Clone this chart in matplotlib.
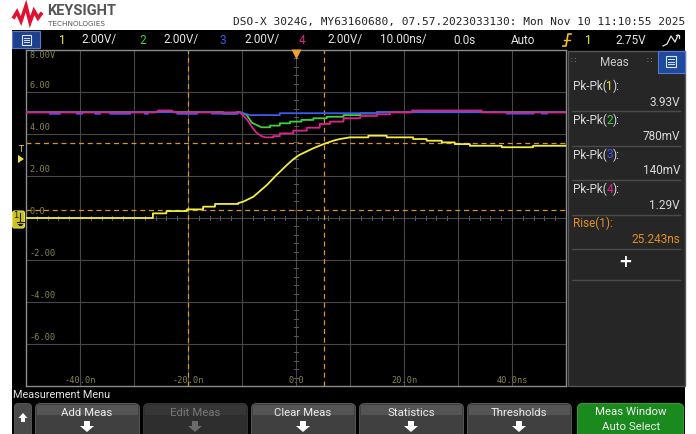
import numpy as np
import matplotlib
matplotlib.use("Agg")
import matplotlib.pyplot as plt
from matplotlib.patches import Rectangle, FancyBboxPatch, Polygon

# ---- waveform data (time in ns, volts at 2 V/div) ----
ch1_t = [-50, -26.5, -26.5, -24.0, -24.0, -20.2, -20.2, -17.2, -17.2, -15.0, -15.0, -10.7, -10.7,
         -9.75, -7.9, -5.4, -3.6, -1.7, -0.5, 0.6, 3.2, 5.1, 6.0, 6.9, 8.1, 10.0, 13.4, 13.4,
         16.8, 16.8, 21.7, 21.7, 24.2, 24.2, 27.0, 27.0, 29.4, 29.4, 32.2, 32.2, 38.1, 38.1,
         43.9, 43.9, 50]
ch1_v = [0.0, 0.0, 0.22, 0.22, 0.33, 0.33, 0.41, 0.41, 0.54, 0.54, 0.67, 0.67, 0.71,
         0.78, 1.01, 1.57, 2.05, 2.52, 2.80, 3.00, 3.32, 3.52, 3.60, 3.68, 3.76, 3.84, 3.84, 3.92,
         3.92, 3.84, 3.84, 3.76, 3.76, 3.68, 3.68, 3.60, 3.60, 3.52, 3.52, 3.44, 3.44, 3.37,
         3.37, 3.44, 3.44]

ch2_t = [-50, -25.5, -25.5, -23.0, -23.0, -13.5, -13.5, -11.0, -11.0, -10.4, -9.1, -8.2, -7.3,
         -6.4, -4.8, -4.8, -3.0, -3.0, -1.1, -1.1, 1.0, 1.0, 3.2, 3.2, 5.7, 5.7, 8.8, 8.8,
         11.9, 11.9, 15.0, 15.0, 50]
ch2_v = [5.04, 5.04, 5.09, 5.09, 5.04, 5.04, 4.97, 4.97, 5.04, 5.04, 4.90, 4.54, 4.43,
         4.32, 4.32, 4.40, 4.40, 4.51, 4.51, 4.59, 4.59, 4.67, 4.67, 4.75, 4.75, 4.82, 4.82, 4.90,
         4.90, 4.98, 4.98, 5.04, 5.04]

ch3_t = [-50, -45.6, -45.6, -43.7, -43.7, -40.6, -40.6, -39.6, -39.6, -37.2, -37.2, -36.3, -36.3,
         -34.4, -34.4, -30.7, -30.7, -28.0, -28.0, -27.4, -27.4, -22.0, -22.0, -18.3, -18.3,
         -15.6, -15.6, -10.7, -10.7, -10.4, -8.5, -3.0, -3.0, 15.0, 15.0, 39.0, 39.0, 44.0,
         44.0, 45.5, 45.5, 46.5, 46.5, 50]
ch3_v = [5.04, 5.04, 4.96, 4.96, 5.04, 5.04, 4.96, 4.96, 5.04, 5.04, 4.96, 4.96, 5.04,
         5.04, 4.96, 4.96, 5.04, 5.04, 4.96, 4.96, 5.04, 5.04, 4.96, 4.96, 5.04,
         5.04, 4.97, 4.97, 5.04, 5.04, 4.90, 4.90, 4.99, 4.99, 5.04, 5.04, 4.97, 4.97,
         5.04, 5.04, 4.97, 4.97, 5.04, 5.04]

ch4_t = [-50, -26.0, -25.5, -23.0, -22.5, -10.4, -9.1, -8.2, -7.3, -6.4, -5.7, -4.2, -4.2,
         -3.0, -3.0, -0.5, -0.5, 2.0, 2.0, 4.4, 4.4, 6.3, 6.3, 8.8, 8.8, 11.9, 11.9, 15.0,
         15.0, 17.4, 17.4, 21.5, 21.5, 34.4, 34.4, 50]
ch4_v = [5.03, 5.03, 5.12, 5.12, 5.03, 5.03, 4.70, 4.35, 4.06, 3.90, 3.84, 3.84, 3.90,
         3.90, 4.03, 4.03, 4.16, 4.16, 4.30, 4.30, 4.48, 4.48, 4.59, 4.59, 4.75, 4.75, 4.86, 4.86,
         4.94, 4.94, 5.03, 5.03, 5.12, 5.12, 5.03, 5.03]

volt_labels = ["8.00V", "6.00", "4.00", "2.00", "0.0", "-2.00", "-4.00", "-6.00"]
volt_pos = [8, 6, 4, 2, 0, -2, -4, -6]
time_labels = ["-40.0n", "-20.0n", "0.0", "20.0n", "40.0ns"]
time_pos = [-40, -20, 0, 20, 40]

cursor_x = [-20.0, 5.24]      # rise-time cursors
cursor_y = [0.38, 3.56]       # 10 % / 90 % levels
trig_level = 2.75

meas_names = ["Pk-Pk(1):", "Pk-Pk(2):", "Pk-Pk(3):", "Pk-Pk(4):", "Rise(1):"]
meas_values = ["3.93V", "780mV", "140mV", "1.29V", "25.243ns"]
buttons = ["Add Meas", "Edit Meas", "Clear Meas", "Statistics", "Thresholds"]

YEL, GRN, BLU, PNK = "#f2ee3c", "#3ed23e", "#3a5cf0", "#e0208c"
ORANGE = "#e0902a"
UI = ["Liberation Sans Narrow", "Roboto", "DejaVu Sans"]
MONO = "DejaVu Sans Mono"

W, H = 696, 434
fig = plt.figure(figsize=(W / 100, H / 100), dpi=100, facecolor="white")

# pixel-coordinate layer for the scope chrome
ui = fig.add_axes([0, 0, 1, 1], zorder=0)
ui.set_xlim(0, W)
ui.set_ylim(H, 0)
ui.axis("off")

ui.add_patch(Rectangle((12, 30), 673, 404, facecolor="black", edgecolor="none"))

# header
logo_x = [14, 17, 21, 26, 30, 34, 38, 41]
logo_y = [17, 12, 21, 6, 22, 11, 18, 14]
ui.plot(logo_x, logo_y, color="#e01030", lw=2.6, solid_joinstyle="miter")
ui.text(47, 11, "KEYSIGHT", fontsize=10.5, weight="bold", color="#555555", va="center", family=UI[1:])
ui.text(48, 23.5, "TECHNOLOGIES", fontsize=5.2, color="#555555", va="center", family=["DejaVu Sans"])
ui.text(685, 22, "DSO-X 3024G, MY63160680, 07.57.2023033130: Mon Nov 10 11:10:55 2025",
        fontsize=8.0, family=MONO, color="#222222", ha="right", va="center")

# status bar
ui.add_patch(Rectangle((12, 31), 28, 17, facecolor="#1d3f8e", edgecolor="#5a78c8", lw=0.8))
ui.add_patch(Rectangle((21.5, 34.5), 9, 10, facecolor="none", edgecolor="#dde4f4", lw=0.8))
for yy in [37.5, 39.5, 41.5]:
    ui.plot([23.5, 28.5], [yy, yy], color="#dde4f4", lw=0.7)

status = [(62, "1", YEL), (99, "2.00V/", "#e6e6e6"), (143, "2", GRN), (181, "2.00V/", "#e6e6e6"),
          (223, "3", BLU), (262, "2.00V/", "#e6e6e6"), (302, "4", PNK), (345, "2.00V/", "#e6e6e6"),
          (403, "10.00ns/", "#e6e6e6"), (464, "0.0s", "#e6e6e6"), (523, "Auto", "#e6e6e6"),
          (588, "1", YEL), (631, "2.75V", "#e6e6e6")]
for xx, s, c in status:
    ui.text(xx, 40, s, color=c, fontsize=8.5, ha="center", va="center", family=UI)
ui.plot([563, 566, 568, 571], [46, 46, 34, 34], color="#f0c020", lw=1.2)
ui.plot([564, 570], [40, 40], color="#f0c020", lw=1.0)
ui.plot([663, 667, 671, 675, 678], [46, 44, 36, 42, 35], color="#e6e6e6", lw=0.9)
ui.plot([676, 679, 679], [35, 35, 38], color="#e6e6e6", lw=0.9)

# left-side markers: ch1 ground and trigger level
ui.add_patch(FancyBboxPatch((12.5, 211), 12, 17, boxstyle="round,pad=0,rounding_size=2",
                            facecolor="#c8c228", edgecolor="#e8e050", lw=0.8))
ui.text(16, 216, "1", fontsize=6, color="#202000", ha="center", va="center", family=["DejaVu Sans"])
ui.plot([20, 20], [213, 222], color="#202000", lw=0.8)
for i, hw in enumerate([3.5, 2.3, 1.1]):
    ui.plot([20 - hw, 20 + hw], [222 + 1.6 * i, 222 + 1.6 * i], color="#202000", lw=0.8)
ui.text(20.5, 149, "T", fontsize=6, color="#e8e050", ha="center", va="center", family=["DejaVu Sans"])
ui.add_patch(Polygon([[18, 155], [24, 159], [18, 163]], closed=True, facecolor="#e8e050", edgecolor="none"))

# measurement panel
ui.add_patch(Rectangle((567.5, 50.5), 117, 335, facecolor="#262626", edgecolor="#565656", lw=1))
ui.add_patch(Rectangle((658, 50.5), 27, 22.5, facecolor="#1d4a9e", edgecolor="#5a78c8", lw=0.8))
ui.add_patch(Rectangle((666, 56), 10, 11, facecolor="none", edgecolor="#dde4f4", lw=0.8))
for yy in [59, 61.5, 64]:
    ui.plot([668, 674], [yy, yy], color="#dde4f4", lw=0.7)
ui.text(614, 62, "Meas", fontsize=8.5, color="#c8c8c8", ha="center", va="center", family=UI)
for xx in [573, 649]:
    ui.text(xx, 61, "\u2237", fontsize=6, color="#808080", ha="center", va="center", family=["DejaVu Sans"])

rend = fig.canvas.get_renderer()
digit_cols = [YEL, GRN, BLU, PNK]
row_y = [86, 120.5, 155, 189.5, 223.5]
for i, (name, val) in enumerate(zip(meas_names, meas_values)):
    y0 = row_y[i]
    if i < 4:
        parts = [("Pk-Pk(", "#dadada"), (name[6], digit_cols[i]), ("):", "#dadada")]
        vcol = "#dadada"
    else:
        parts = [(name, ORANGE)]
        vcol = ORANGE
    xx = 572.5
    for s, c in parts:
        t = ui.text(xx, y0, s, fontsize=8.5, color=c, va="center", ha="left", family=UI)
        xx += t.get_window_extent(renderer=rend).width
    ui.text(680, y0 + 16, val, fontsize=8.5, color=vcol, va="center", ha="right", family=UI)
    ui.plot([572, 680], [y0 + 25, y0 + 25], color="#4a4a4a", lw=1)
ui.text(625, 262, "+", fontsize=12, weight="bold", color="white", ha="center", va="center",
        family=["DejaVu Sans"])
ui.plot([572, 680], [280, 280], color="#4a4a4a", lw=1)

# bottom menu
ui.text(13, 395.5, "Measurement Menu", fontsize=7.8, color="#e2e2e2", va="center", family=UI)


def down_arrow(cx, col):
    ui.add_patch(Polygon([[cx - 3, 421], [cx + 3, 421], [cx + 3, 426], [cx + 7, 426], [cx, 432],
                          [cx - 7, 426], [cx - 3, 426]], closed=True, facecolor=col, edgecolor="none"))


ui.add_patch(FancyBboxPatch((14.5, 403.5), 17, 40, boxstyle="round,pad=0,rounding_size=4",
                            facecolor="#4a4a4a", edgecolor="#5c5c5c", lw=0.6))
ui.add_patch(Polygon([[23, 413], [27.5, 418], [25, 418], [25, 422], [21, 422], [21, 418], [18.5, 418]],
                     closed=True, facecolor="white", edgecolor="none"))
btn_x = [35, 143, 251, 359, 467]
for xx, lab in zip(btn_x, buttons):
    disabled = lab == "Edit Meas"
    ui.add_patch(FancyBboxPatch((xx + 0.5, 403.5), 104, 40, boxstyle="round,pad=0,rounding_size=5",
                                facecolor="#2e2e2e" if disabled else "#404040",
                                edgecolor="#3c3c3c" if disabled else "#5e5e5e", lw=0.6))
    ui.add_patch(Rectangle((xx + 2, 405), 101, 10, facecolor="#363636" if disabled else "#545454",
                           edgecolor="none"))
    ui.text(xx + 52, 412.5, lab, fontsize=8.2, color="#777777" if disabled else "#ececec",
            ha="center", va="center", family=UI)
    down_arrow(xx + 52, "#6a6a6a" if disabled else "white")

ui.add_patch(FancyBboxPatch((577.5, 403.5), 106, 40, boxstyle="round,pad=0,rounding_size=5",
                            facecolor="#1a8a1e", edgecolor="#39b03c", lw=0.6))
ui.text(631, 412, "Meas Window", fontsize=8.2, color="#f0f0f0", ha="center", va="center", family=UI)
ui.text(631, 427, "Auto Select", fontsize=8.2, color="#f0f0f0", ha="center", va="center", family=UI)

# graticule and traces
ax = fig.add_axes([26 / W, (H - 386) / H, 540 / W, 336 / H], zorder=1)
ax.set_facecolor("black")
ax.set_xlim(-50, 50)
ax.set_ylim(-8, 8)
ax.set_xticks([])
ax.set_yticks([])
for sp in ax.spines.values():
    sp.set_color("#8c8c8c")
    sp.set_linewidth(1.0)

for x in range(-40, 50, 10):
    ax.axvline(x, color="#474747", lw=0.8, zorder=1)
for y in range(-6, 8, 2):
    ax.axhline(y, color="#474747", lw=0.8, zorder=1)
for x in np.arange(-50, 50.1, 2):
    ax.plot([x, x], [-0.1, 0.1], color="#5a5a5a", lw=0.7, zorder=1)
for y in np.arange(-8, 8.1, 0.4):
    ax.plot([-0.45, 0.45], [y, y], color="#5a5a5a", lw=0.7, zorder=1)

for v, lab in zip(volt_pos, volt_labels):
    if v == 8:
        ax.text(-49.4, 7.93, lab, fontsize=6.2, color="#868650", va="top", family=MONO)
    else:
        ax.text(-49.4, v + 0.08, lab, fontsize=6.2, color="#868650", va="bottom", family=MONO)
for t, lab in zip(time_pos, time_labels):
    ax.text(t, -7.95, lab, fontsize=6.2, color="#868650", ha="center", va="bottom", family=MONO)

for cx in cursor_x:
    ax.axvline(cx, color=ORANGE, lw=0.9, ls=(0, (4, 3)), zorder=2)
for cy in cursor_y:
    ax.axhline(cy, color=ORANGE, lw=0.9, ls=(0, (4, 3)), zorder=2)

ax.plot(ch2_t, ch2_v, color=GRN, lw=1.3, zorder=3)
ax.plot(ch3_t, ch3_v, color=BLU, lw=1.3, zorder=3)
ax.plot(ch4_t, ch4_v, color=PNK, lw=1.3, zorder=3)
ax.plot(ch1_t, ch1_v, color=YEL, lw=1.3, zorder=4)

ax.plot([0], [7.82], marker="v", color="#f0a030", ms=6.5, mec="none", clip_on=False, zorder=5)

fig.savefig("out.png", dpi=100, facecolor="white")
